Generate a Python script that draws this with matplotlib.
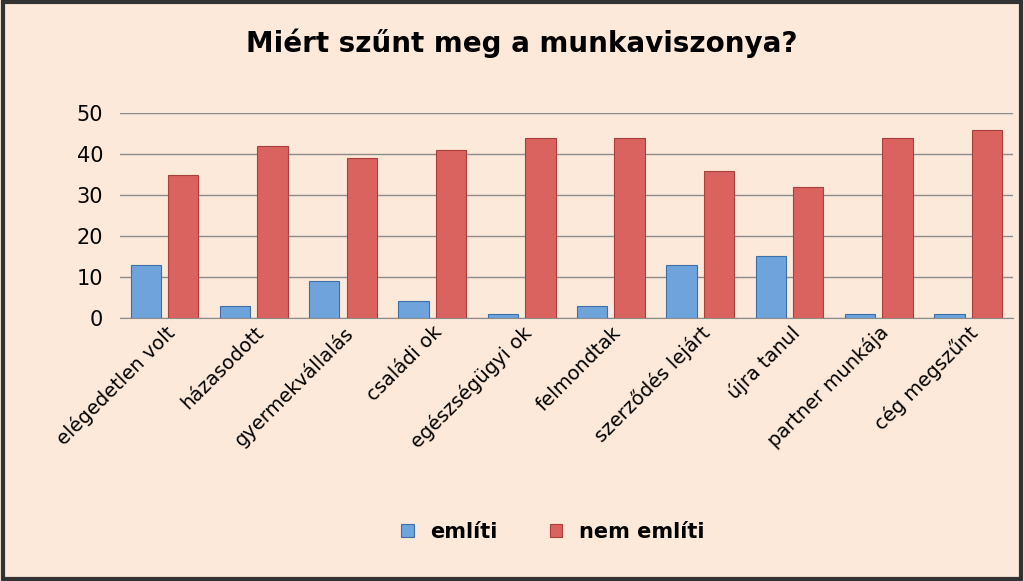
import matplotlib
matplotlib.use("Agg")
import matplotlib.pyplot as plt
import numpy as np

categories = ["elégedetlen volt", "házasodott", "gyermekvállalás", "családi ok",
              "egészségügyi ok", "felmondtak", "szerződés lejárt", "újra tanul",
              "partner munkája", "cég megszűnt"]
emliti = [13, 3, 9, 4, 1, 3, 13, 15, 1, 1]
nem_emliti = [35, 42, 39, 41, 44, 44, 36, 32, 44, 46]
yticks = [0, 10, 20, 30, 40, 50]

bg = "#FCE9D9"
fig = plt.figure(figsize=(10.24, 5.81), dpi=100, facecolor=bg)
fig.patches.append(plt.Rectangle((0.003, 0.003), 0.994, 0.994, transform=fig.transFigure,
                                 fill=False, edgecolor="#333333", linewidth=3))
ax = fig.add_axes([0.117, 0.453, 0.872, 0.352], facecolor=bg)
x = np.arange(len(categories))
w = 0.34
ax.bar(x - 0.21, emliti, w, color="#6FA3DC", edgecolor="#3F6FA8", linewidth=0.8, label="említi", zorder=3)
ax.bar(x + 0.21, nem_emliti, w, color="#DA625F", edgecolor="#A8403D", linewidth=0.8, label="nem említi", zorder=3)
ax.set_xlim(-0.5, len(categories) - 0.5)
ax.set_ylim(0, 50)
ax.set_yticks(yticks)
ax.yaxis.grid(True, color="#8C8C8C", linewidth=1, zorder=0)
for s in ["top", "right", "left"]:
    ax.spines[s].set_visible(False)
ax.spines["bottom"].set_color("#8C8C8C")
ax.tick_params(axis="y", length=0, labelsize=15, pad=12)
ax.tick_params(axis="x", length=0, labelsize=14)
ax.set_xticks(x)
ax.set_xticklabels(categories, rotation=45, ha="right", rotation_mode="anchor")
fig.text(0.51, 0.925, "Miért szűnt meg a munkaviszonya?", ha="center", va="center",
         fontsize=20, fontweight="bold")
fig.legend(loc="center", bbox_to_anchor=(0.54, 0.085), ncol=2, frameon=False,
           fontsize=15, handlelength=0.6, handleheight=0.6, columnspacing=2.5,
           prop={"weight": "bold", "size": 15})
fig.savefig("out.png", dpi=100, facecolor=bg)
